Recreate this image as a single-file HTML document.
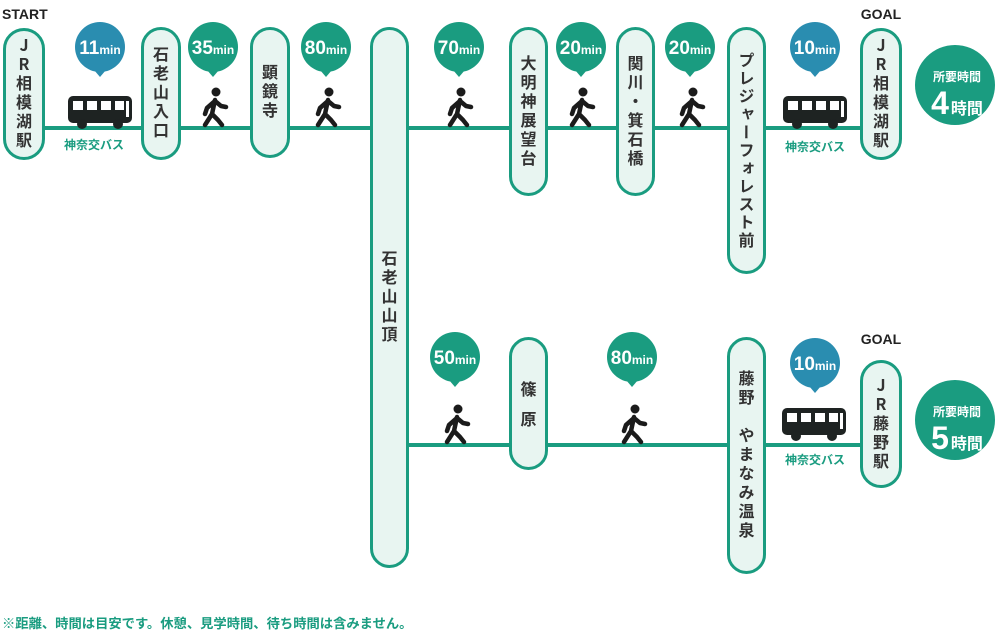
<!DOCTYPE html>
<html><head><meta charset="utf-8"><style>
body{margin:0;width:1000px;height:633px;background:#fff;overflow:hidden;position:relative;font-family:"Liberation Sans","Noto Sans CJK JP",sans-serif}
svg{position:absolute;left:0;top:0}
.n{position:absolute;box-sizing:border-box;border:3px solid #1a9c80;background:#e8f5f1;border-radius:21px;display:flex;align-items:center;justify-content:center}
.n span{writing-mode:vertical-rl;text-orientation:upright;font-size:16px;font-weight:bold;color:#333;letter-spacing:3px;line-height:1;font-family:"Noto Sans CJK JP",sans-serif}
</style></head><body>
<svg width="1000" height="633" viewBox="0 0 1000 633">
<defs>
<g id="walk" fill="none" stroke="#1b1b1b" stroke-width="4.5" stroke-linecap="round" stroke-linejoin="round">
<circle cx="3" cy="-34" r="4.5" fill="#1b1b1b" stroke="none"/>
<path d="M2,-26 L-1,-12 L-8,-1 M-1,-12 L5,-6 L9,-1 M2,-25 L-6,-18 L-8,-12 M2,-25 L8,-20 L13,-19"/>
</g>
<g id="bus">
<rect x="0" y="0" width="64" height="27" rx="5" fill="#1e2322"/>
<rect x="5" y="5" width="10" height="9" fill="#fff"/><rect x="19" y="5" width="10" height="9" fill="#fff"/><rect x="33" y="5" width="10" height="9" fill="#fff"/><rect x="47" y="5" width="9" height="9" fill="#fff"/>
<rect x="58" y="5" width="3" height="16" fill="#fff"/>
<circle cx="14" cy="28" r="5" fill="#1e2322"/><circle cx="50" cy="28" r="5" fill="#1e2322"/>
</g>
</defs>
<g stroke="#1a9c80" stroke-width="4">
<line x1="45" y1="128" x2="862" y2="128"/>
<line x1="409" y1="445" x2="862" y2="445"/>
</g>
<g font-weight="bold" fill="#fff" text-anchor="middle">
<g fill="#2a8db0"><circle cx="100" cy="47" r="25"/><path d="M94,70 L100,77 L106,70Z"/></g>
<text x="100" y="54"><tspan font-size="19">11</tspan><tspan font-size="12">min</tspan></text>
<g fill="#1a9c80"><circle cx="213" cy="47" r="25"/><path d="M207,70 L213,77 L219,70Z"/></g>
<text x="213" y="54"><tspan font-size="19">35</tspan><tspan font-size="12">min</tspan></text>
<g fill="#1a9c80"><circle cx="326" cy="47" r="25"/><path d="M320,70 L326,77 L332,70Z"/></g>
<text x="326" y="54"><tspan font-size="19">80</tspan><tspan font-size="12">min</tspan></text>
<g fill="#1a9c80"><circle cx="459" cy="47" r="25"/><path d="M453,70 L459,77 L465,70Z"/></g>
<text x="459" y="54"><tspan font-size="19">70</tspan><tspan font-size="12">min</tspan></text>
<g fill="#1a9c80"><circle cx="581" cy="47" r="25"/><path d="M575,70 L581,77 L587,70Z"/></g>
<text x="581" y="54"><tspan font-size="19">20</tspan><tspan font-size="12">min</tspan></text>
<g fill="#1a9c80"><circle cx="690" cy="47" r="25"/><path d="M684,70 L690,77 L696,70Z"/></g>
<text x="690" y="54"><tspan font-size="19">20</tspan><tspan font-size="12">min</tspan></text>
<g fill="#2a8db0"><circle cx="815" cy="47" r="25"/><path d="M809,70 L815,77 L821,70Z"/></g>
<text x="815" y="54"><tspan font-size="19">10</tspan><tspan font-size="12">min</tspan></text>
<g fill="#1a9c80"><circle cx="455" cy="357" r="25"/><path d="M449,380 L455,387 L461,380Z"/></g>
<text x="455" y="364"><tspan font-size="19">50</tspan><tspan font-size="12">min</tspan></text>
<g fill="#1a9c80"><circle cx="632" cy="357" r="25"/><path d="M626,380 L632,387 L638,380Z"/></g>
<text x="632" y="364"><tspan font-size="19">80</tspan><tspan font-size="12">min</tspan></text>
<g fill="#2a8db0"><circle cx="815" cy="363" r="25"/><path d="M809,386 L815,393 L821,386Z"/></g>
<text x="815" y="370"><tspan font-size="19">10</tspan><tspan font-size="12">min</tspan></text>
</g>
<use href="#bus" x="68" y="96"/>
<use href="#bus" x="783" y="96"/>
<use href="#bus" x="782" y="408"/>
<use href="#walk" x="213" y="126"/>
<use href="#walk" x="326" y="126"/>
<use href="#walk" x="458" y="126"/>
<use href="#walk" x="580" y="126"/>
<use href="#walk" x="690" y="126"/>
<use href="#walk" x="455" y="443"/>
<use href="#walk" x="632" y="443"/>
<g font-family="Noto Sans CJK JP,sans-serif" font-weight="bold" font-size="12" fill="#1a9c80" text-anchor="middle">
<text x="94" y="149">神奈交バス</text>
<text x="815" y="151">神奈交バス</text>
<text x="815" y="464">神奈交バス</text>
</g>
<g font-weight="bold" font-size="14" fill="#222">
<text x="2" y="19">START</text>
<text x="881" y="19" text-anchor="middle">GOAL</text>
<text x="881" y="344" text-anchor="middle">GOAL</text>
</g>
<g fill="#1a9c80"><circle cx="955" cy="85" r="40"/><circle cx="955" cy="420" r="40"/></g>
<g fill="#fff" font-weight="bold" font-family="Noto Sans CJK JP,sans-serif" text-anchor="middle">
<text x="957" y="81" font-size="12">所要時間</text>
<text x="957" y="114"><tspan font-size="32" font-family="Liberation Sans">4</tspan><tspan font-size="16" dx="2">時間</tspan></text>
<text x="957" y="416" font-size="12">所要時間</text>
<text x="957" y="449"><tspan font-size="32" font-family="Liberation Sans">5</tspan><tspan font-size="16" dx="2">時間</tspan></text>
</g>
<text x="2" y="628" font-size="13.3" font-weight="bold" fill="#1a9c80" font-family="Noto Sans CJK JP,sans-serif">※距離、時間は目安です。休憩、見学時間、待ち時間は含みません。</text>
</svg>
<div class="n" style="left:3px;top:28px;width:42px;height:132px"><span>JR相模湖駅</span></div>
<div class="n" style="left:141px;top:27px;width:40px;height:133px"><span>石老山入口</span></div>
<div class="n" style="left:250px;top:27px;width:40px;height:131px"><span>顕鏡寺</span></div>
<div class="n" style="left:370px;top:27px;width:39px;height:541px"><span>石老山山頂</span></div>
<div class="n" style="left:509px;top:27px;width:39px;height:169px"><span>大明神展望台</span></div>
<div class="n" style="left:616px;top:27px;width:39px;height:169px"><span>関川・箕石橋</span></div>
<div class="n" style="left:727px;top:27px;width:39px;height:247px"><span style="letter-spacing:2px">プレジャーフォレスト前</span></div>
<div class="n" style="left:860px;top:28px;width:42px;height:132px"><span>JR相模湖駅</span></div>
<div class="n" style="left:509px;top:337px;width:39px;height:133px"><span style="letter-spacing:14px;padding-top:14px">篠原</span></div>
<div class="n" style="left:727px;top:337px;width:39px;height:237px"><span>藤野　やまなみ温泉</span></div>
<div class="n" style="left:860px;top:360px;width:42px;height:128px"><span>JR藤野駅</span></div>
</body></html>
